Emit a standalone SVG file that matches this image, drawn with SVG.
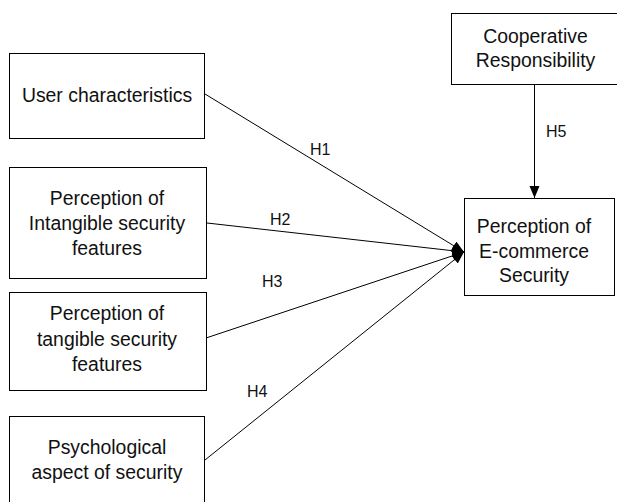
<svg xmlns="http://www.w3.org/2000/svg" width="617" height="502" viewBox="0 0 617 502">
<style>
.box{fill:#fff;stroke:#000;stroke-width:1}
.t{font-family:"Liberation Sans",Arial,sans-serif;font-size:19.4px;fill:#111;text-anchor:middle}
.h{font-family:"Liberation Sans",Arial,sans-serif;font-size:16px;fill:#111}
.c{stroke:#000;stroke-width:1;fill:none;marker-end:url(#arr)}
</style>
<defs>
<marker id="arr" markerUnits="userSpaceOnUse" markerWidth="14" markerHeight="11" refX="12" refY="5" orient="auto">
<path d="M0,0 L12,5 L0,10 z" fill="#000"/>
</marker>
</defs>
<rect width="617" height="502" fill="#fff"/>
<g id="connectors">
<line class="c" x1="205" y1="94" x2="464" y2="252"/>
<line class="c" x1="207" y1="223" x2="464" y2="252"/>
<line class="c" x1="206" y1="338" x2="464" y2="252"/>
<line class="c" x1="205" y1="460" x2="464" y2="252"/>
<line class="c" x1="534.5" y1="85" x2="534.5" y2="198"/>
<text class="h" x="310" y="155">H1</text>
<text class="h" x="270" y="225">H2</text>
<text class="h" x="262" y="287">H3</text>
<text class="h" x="247" y="397">H4</text>
<text class="h" x="546" y="137">H5</text>
</g>
<g id="user">
<rect class="box" x="9.5" y="53.5" width="195" height="85"/>
<text class="t" x="107" y="102">User characteristics</text>
</g>
<g id="intangible">
<rect class="box" x="9.5" y="167.5" width="197" height="111"/>
<text class="t" x="107" y="205">Perception of</text>
<text class="t" x="107" y="230">Intangible security</text>
<text class="t" x="107" y="255">features</text>
</g>
<g id="tangible">
<rect class="box" x="9.5" y="292.5" width="197" height="98"/>
<text class="t" x="107" y="320">Perception of</text>
<text class="t" x="107" y="346">tangible security</text>
<text class="t" x="107" y="371">features</text>
</g>
<g id="psych">
<rect class="box" x="9.5" y="416.5" width="195" height="95"/>
<text class="t" x="107" y="454">Psychological</text>
<text class="t" x="107" y="479">aspect of security</text>
</g>
<g id="coop">
<rect class="box" x="451.5" y="13.5" width="170" height="71"/>
<text class="t" x="535.5" y="43">Cooperative</text>
<text class="t" x="535.5" y="67">Responsibility</text>
</g>
<g id="ecommerce">
<rect class="box" x="464.5" y="198.5" width="150" height="97"/>
<text class="t" x="534" y="233">Perception of</text>
<text class="t" x="534" y="258">E-commerce</text>
<text class="t" x="534" y="282">Security</text>
</g>
</svg>
